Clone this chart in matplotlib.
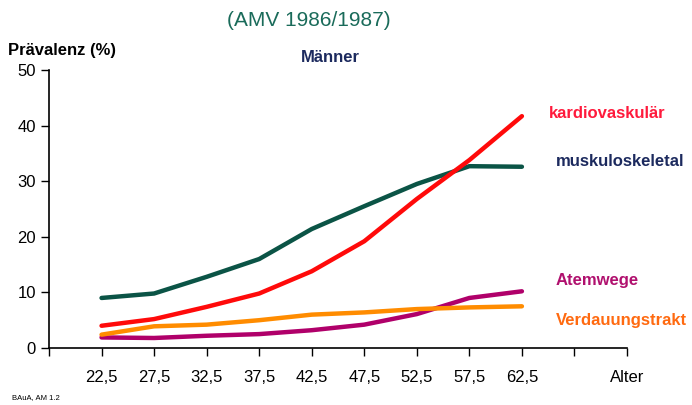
import matplotlib
matplotlib.use("Agg")
from matplotlib import pyplot as plt
import matplotlib.ticker as mticker

plt.rcParams["font.family"] = ["Liberation Sans", "DejaVu Sans"]

# Altersklassen (Mitte) und Prävalenz in %
alter = [22.5, 27.5, 32.5, 37.5, 42.5, 47.5, 52.5, 57.5, 62.5]
muskuloskeletal = [9.0, 9.8, 12.8, 16.0, 21.4, 25.5, 29.5, 32.7, 32.6]
kardiovaskulaer = [4.0, 5.2, 7.4, 9.8, 13.8, 19.2, 26.8, 33.8, 41.7]
atemwege = [1.9, 1.8, 2.2, 2.5, 3.2, 4.2, 6.1, 9.0, 10.2]
verdauung = [2.4, 3.9, 4.2, 5.0, 6.0, 6.4, 7.0, 7.3, 7.5]

x_ticks = [17.5, 22.5, 27.5, 32.5, 37.5, 42.5, 47.5, 52.5, 57.5, 62.5, 67.5, 72.5]
x_labels = ["", "22,5", "27,5", "32,5", "37,5", "42,5", "47,5", "52,5",
            "57,5", "62,5", "", "Alter"]
y_ticks = [0, 10, 20, 30, 40, 50]

W, H = 692, 405
fig = plt.figure(figsize=(W / 100, H / 100), dpi=100)
ax = fig.add_axes([49 / W, (H - 348) / H, (627 - 49) / W, (348 - 70) / H])

lw = 3.2
ax.plot(alter, muskuloskeletal, color="#0b5446", lw=lw, solid_capstyle="round")
ax.plot(alter, kardiovaskulaer, color="#ff0a0a", lw=lw, solid_capstyle="round")
ax.plot(alter, atemwege, color="#b0006a", lw=lw, solid_capstyle="round")
ax.plot(alter, verdauung, color="#ff8c00", lw=lw, solid_capstyle="round")

ax.set_xlim(17.5, 72.5)
ax.set_ylim(0, 50)
ax.xaxis.set_major_locator(mticker.FixedLocator(x_ticks))
ax.set_xticklabels(x_labels)
ax.yaxis.set_major_locator(mticker.FixedLocator(y_ticks))
ax.tick_params(axis="both", labelsize=12, direction="out", length=6, width=1)
ax.tick_params(axis="x", pad=10)
for s in ["top", "right"]:
    ax.spines[s].set_visible(False)
for s in ["left", "bottom"]:
    ax.spines[s].set_linewidth(1.2)


def ftext(px, py, s, **kw):
    fig.text(px / W, 1 - py / H, s, **kw)


ftext(309, 20, "(AMV 1986/1987)", color="#1a6b5a", fontsize=15,
      ha="center", va="center")
ftext(8, 50, "Prävalenz (%)", fontsize=12, fontweight="bold",
      ha="left", va="center")
ftext(330, 57, "Männer", color="#1c2a5e", fontsize=12, fontweight="bold",
      ha="center", va="center")
ftext(549, 114, "kardiovaskulär", color="#ff1a3c", fontsize=12,
      fontweight="bold", ha="left", va="center")
ftext(556, 162, "muskuloskeletal", color="#1c2a5e", fontsize=12,
      fontweight="bold", ha="left", va="center")
ftext(556, 280, "Atemwege", color="#b0106e", fontsize=12,
      fontweight="bold", ha="left", va="center")
ftext(556, 320, "Verdauungstrakt", color="#ff6a10", fontsize=12,
      fontweight="bold", ha="left", va="center")
ftext(12, 398, "BAuA, AM 1.2", fontsize=5.5, ha="left", va="center")

fig.savefig("out.png", dpi=100)
